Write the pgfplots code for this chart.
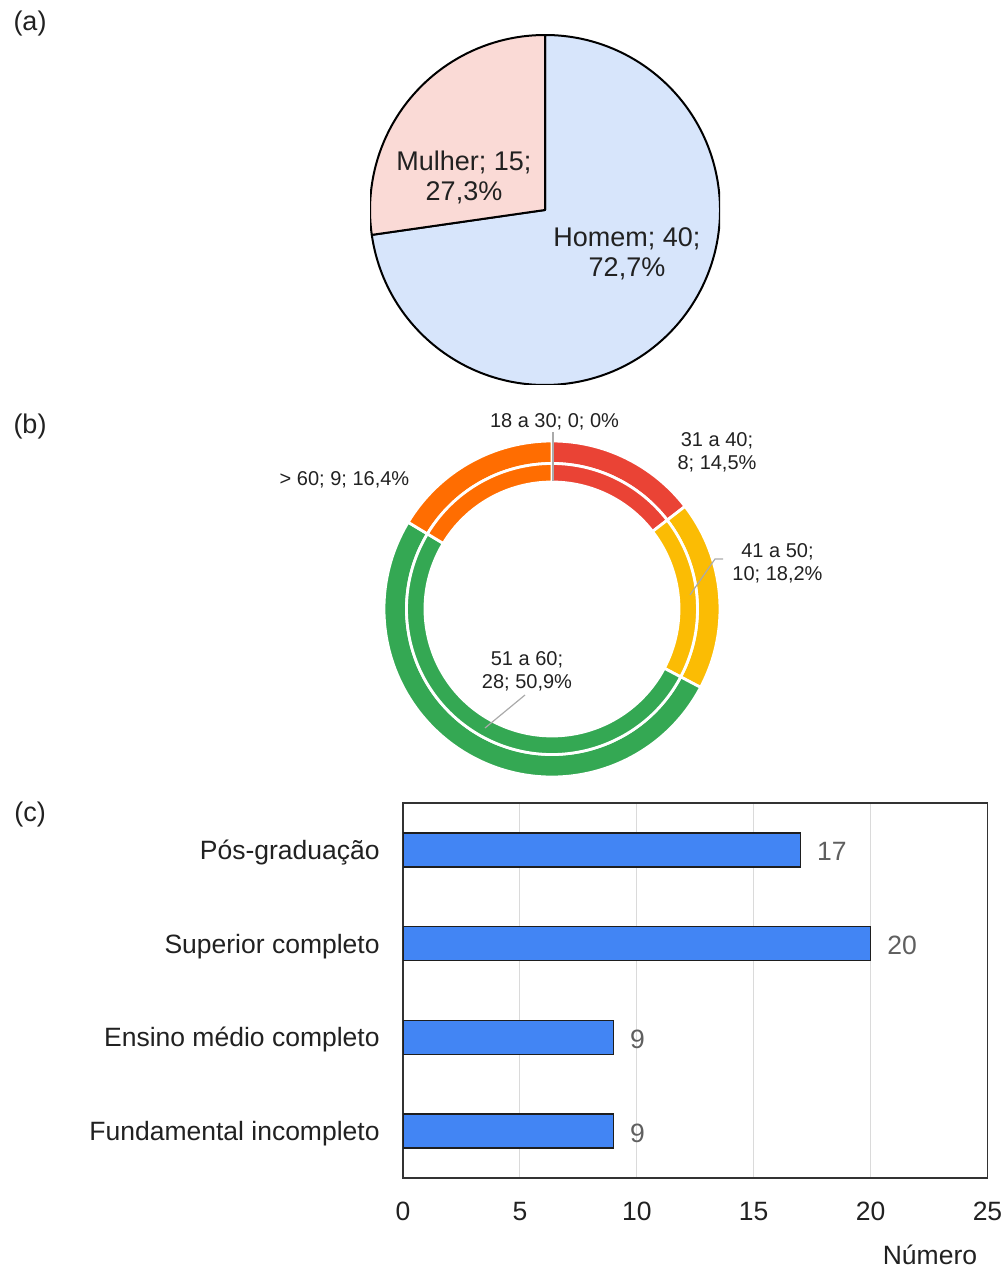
\documentclass[border=0pt]{standalone}
\usepackage{pgfplots}
\pgfplotsset{compat=1.18}
\usetikzlibrary{calc}
\usepackage{fontspec}
\setmainfont{Liberation Sans}
\definecolor{pinkc}{RGB}{250,218,214}
\definecolor{bluec}{RGB}{215,229,251}
\definecolor{gred}{HTML}{EA4335}
\definecolor{gyellow}{HTML}{FBBC04}
\definecolor{ggreen}{HTML}{34A853}
\definecolor{gorange}{HTML}{FF6D01}
\definecolor{gblue}{HTML}{4285F4}
\definecolor{txt}{RGB}{33,33,33}
\definecolor{leader}{RGB}{170,170,170}
\definecolor{vallab}{RGB}{95,95,95}
\definecolor{gridc}{RGB}{218,218,218}
\definecolor{axisc}{RGB}{51,51,51}
\definecolor{barborder}{RGB}{30,30,30}

% annular sector: color, start angle, end angle, outer radius, inner radius
\newcommand{\annsec}[5]{\fill[#1, draw=white, line width=1.4pt] ($(axis cs:0,0)+(#2:#4)$) arc[start angle=#2, end angle=#3, radius=#4] -- ($(axis cs:0,0)+(#3:#5)$) arc[start angle=#3, end angle=#2, radius=#5] -- cycle;}

\begin{document}
\begin{tikzpicture}
\useasboundingbox (0,0) rectangle (503pt,634.5pt);

% ---------------- data ----------------
% (a) gender
\def\nHomem{40}
\def\nMulher{15}
\pgfmathsetmacro{\angM}{90+360/(\nHomem+\nMulher)*\nMulher}
% (b) age groups
\def\dA{0}   % 18 a 30
\def\dB{8}   % 31 a 40
\def\dC{10}  % 41 a 50
\def\dD{28}  % 51 a 60
\def\dE{9}   % > 60
\pgfmathsetmacro{\dT}{\dA+\dB+\dC+\dD+\dE}
\pgfmathsetmacro{\dU}{360/\dT}
\pgfmathsetmacro{\tB}{90-\dU*(\dA)}
\pgfmathsetmacro{\tC}{90-\dU*(\dA+\dB)}
\pgfmathsetmacro{\tD}{90-\dU*(\dA+\dB+\dC)}
\pgfmathsetmacro{\tE}{90-\dU*(\dA+\dB+\dC+\dD)}
\pgfmathsetmacro{\tF}{90-\dU*(\dA+\dB+\dC+\dD+\dE)}

% ---------------- (a) pie ----------------
\begin{axis}[hide axis, scale only axis, width=175pt, height=175pt,
  xmin=-1, xmax=1, ymin=-1, ymax=1,
  at={(185pt,442pt)}, anchor=south west]
\fill[bluec, draw=black, line width=1pt, line join=round] (axis cs:0,0) -- ++(\angM:87.5pt) arc[start angle=\angM, end angle=450, radius=87.5pt] -- cycle;
\fill[pinkc, draw=black, line width=1pt, line join=round] (axis cs:0,0) -- ++(90:87.5pt) arc[start angle=90, end angle=\angM, radius=87.5pt] -- cycle;
\end{axis}

% ---------------- (b) donut ----------------
\begin{axis}[hide axis, scale only axis, width=168pt, height=168pt,
  xmin=-1, xmax=1, ymin=-1, ymax=1,
  at={(192pt,246pt)}, anchor=south west]
% outer ring
\annsec{gred}{\tB}{\tC}{84pt}{72.75pt}
\annsec{gyellow}{\tC}{\tD}{84pt}{72.75pt}
\annsec{ggreen}{\tD}{\tE}{84pt}{72.75pt}
\annsec{gorange}{\tE}{\tF}{84pt}{72.75pt}
% inner ring
\annsec{gred}{\tB}{\tC}{72.75pt}{63.5pt}
\annsec{gyellow}{\tC}{\tD}{72.75pt}{63.5pt}
\annsec{ggreen}{\tD}{\tE}{72.75pt}{63.5pt}
\annsec{gorange}{\tE}{\tF}{72.75pt}{63.5pt}
\end{axis}

% ---------------- (c) bars ----------------
\begin{axis}[at={(201.5pt,45.5pt)}, anchor=south west,
  scale only axis, width=292.25pt, height=187.5pt,
  xbar, bar width=17pt,
  xmin=0, xmax=25, ymin=-0.5, ymax=3.5,
  xtick={0,5,10,15,20,25}, ytick={0,1,2,3},
  yticklabels={Fundamental incompleto, Ensino médio completo, Superior completo, Pós-graduação},
  major tick length=0pt,
  xmajorgrids, grid style={draw=gridc, line width=0.5pt},
  axis line style={draw=axisc, line width=0.65pt},
  /pgf/number format/assume math mode=true,
  ticklabel style={font=\fontsize{13.25}{15}\selectfont, text=txt},
  xticklabel style={anchor=base, yshift=-21.25pt, inner sep=0pt},
  yticklabel style={anchor=east, xshift=-11.5pt, yshift=-1.3pt, inner sep=0pt},
  nodes near coords,
  nodes near coords style={font=\fontsize{13.25}{15}\selectfont, text=vallab, anchor=west, xshift=8pt, yshift=-1pt, inner sep=0pt},
  xlabel={Número},
  xlabel style={at={(axis description cs:0.9016,0)}, anchor=center, yshift=-38.4pt, inner sep=0pt, font=\fontsize{13.25}{15}\selectfont, text=txt},
]
\addplot[fill=gblue, draw=barborder, line width=0.7pt] coordinates {(9,0) (9,1) (20,2) (17,3)};
\end{axis}

% ---------------- annotations ----------------
\begin{scope}[font=\fontsize{13.5}{16}\selectfont, text=txt]
\node at (15pt,622.5pt) {(a)};
\node at (15pt,421pt) {(b)};
\node at (15pt,227pt) {(c)};
\node[align=center, font=\fontsize{13.5}{15}\selectfont] at (232pt,546pt) {Mulher; 15;\\27,3\%};
\node[align=center, font=\fontsize{13.5}{15}\selectfont] at (313.5pt,507.5pt) {Homem; 40;\\72,7\%};
\end{scope}

\draw[leader, line width=0.6pt] (276.5pt,418.5pt) -- (276.5pt,394pt);
\draw[leader, line width=0.6pt] (361.5pt,355pt) -- (357.5pt,355pt) -- (345pt,337pt);
\draw[leader, line width=0.6pt] (262.5pt,287pt) -- (242.5pt,270.5pt);

\begin{scope}[font=\fontsize{10}{11.5}\selectfont, text=txt]
\node at (277.25pt,423.5pt) {18 a 30; 0; 0\%};
\node[align=center] at (358.5pt,408.5pt) {31 a 40;\\8; 14,5\%};
\node at (172.25pt,394.5pt) {> 60; 9; 16,4\%};
\node[align=center] at (388.75pt,353pt) {41 a 50;\\10; 18,2\%};
\node[align=center] at (263.5pt,299pt) {51 a 60;\\28; 50,9\%};
\end{scope}
\end{tikzpicture}
\end{document}
